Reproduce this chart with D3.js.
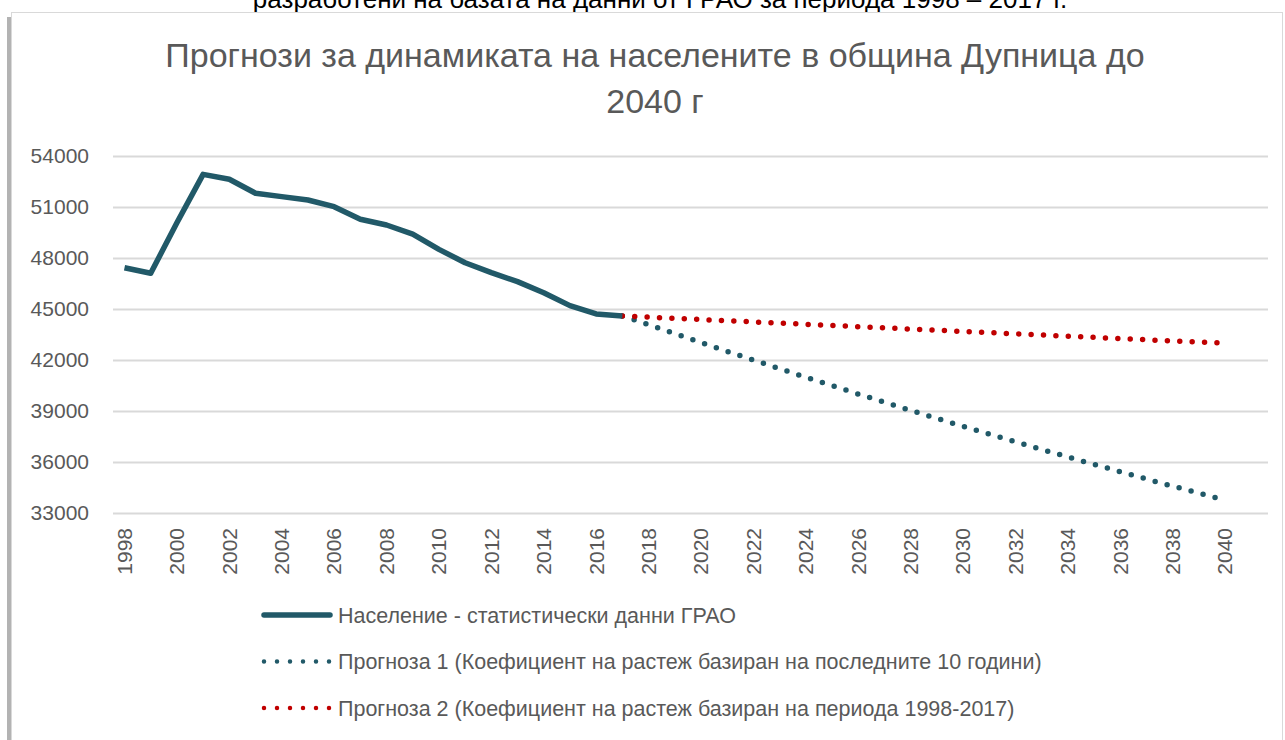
<!DOCTYPE html>
<html>
<head>
<meta charset="utf-8">
<script src="https://cdn.jsdelivr.net/npm/d3@7"></script>
<style>
  body { margin: 0; background: #fff; }
  svg { display: block; }
</style>
</head>
<body>
<svg width="1285" height="740"></svg>
<script>
// data
var years = d3.range(1998, 2041);
var histYears = d3.range(1998, 2018);
var histValues = [47430, 47100, 50080, 52920, 52630, 51810, 51610, 51410, 51020, 50280,
                  49940, 49410, 48510, 47720, 47140, 46610, 45960, 45200, 44710, 44590];
var forecastYears = d3.range(2017, 2041);
var forecast1 = [44590, 44080, 43560, 43030, 42510, 42000, 41490, 40990, 40490, 40000,
                 39520, 39040, 38570, 38100, 37640, 37190, 36740, 36300, 35860, 35430,
                 35000, 34580, 34170, 33760];
var forecast2 = [44590, 44520, 44450, 44380, 44310, 44240, 44170, 44100, 44030, 43960,
                 43890, 43820, 43750, 43680, 43610, 43540, 43470, 43400, 43330, 43260,
                 43190, 43120, 43060, 43000];
var yTicks = [33000, 36000, 39000, 42000, 45000, 48000, 51000, 54000];
var xTickYears = years.filter(function (d) { return d % 2 === 0; });
var titleLines = ["Прогнози за динамиката на населените в община Дупница до", "2040 г"];
var topText = "разработени на базата на данни от ГРАО за периода 1998 – 2017 г.";
var legendNames = ["Население - статистически данни ГРАО",
                   "Прогноза 1 (Коефициент на растеж базиран на последните 10 години)",
                   "Прогноза 2 (Коефициент на растеж базиран на периода 1998-2017)"];

var teal = "#215968", red = "#c00000", grey = "#595959";
var font = "'Liberation Sans', Arial, sans-serif";
var svg = d3.select("svg");

// page text cut by the top of the window
svg.append("text")
    .attr("x", 660).attr("y", 8)
    .attr("text-anchor", "middle")
    .style("font-family", font)
    .style("font-size", "26px")
    .style("fill", "#000")
    .text(topText);

// chart frame
svg.append("rect").attr("x", 7).attr("y", 17).attr("width", 4).attr("height", 730).attr("fill", "#b3b3b3");
svg.append("rect").attr("x", 11.5).attr("y", 12.5).attr("width", 1271).attr("height", 740)
    .attr("fill", "#fff").attr("stroke", "#d9d9d9");

var x = d3.scalePoint().domain(years).range([124.5, 1225]);
var y = d3.scaleLinear().domain([33000, 54000]).range([513, 156]);

// title
svg.append("g").selectAll("text")
    .data(titleLines)
    .join("text")
    .attr("x", 655)
    .attr("y", function (d, i) { return 67 + i * 46; })
    .attr("text-anchor", "middle")
    .style("font-family", font)
    .style("font-size", "34px")
    .style("fill", grey)
    .text(function (d) { return d; });

// grid + y labels
var yAxis = svg.append("g").attr("transform", "translate(113,0)")
    .call(d3.axisLeft(y).tickValues(yTicks).tickSize(-1155).tickPadding(24).tickFormat(d3.format("d")));
yAxis.select(".domain").remove();
yAxis.selectAll(".tick line").attr("stroke", "#d9d9d9").attr("stroke-width", 2);
yAxis.selectAll(".tick text").style("font-family", font)
    .style("font-size", "21px").style("fill", grey);

// x labels
svg.append("g").selectAll("text")
    .data(xTickYears)
    .join("text")
    .attr("transform", function (d) { return "translate(" + x(d) + ",528) rotate(-90)"; })
    .attr("dy", "0.35em")
    .attr("text-anchor", "end")
    .style("font-family", font)
    .style("font-size", "21px")
    .style("fill", grey)
    .text(function (d) { return d; });

var line = d3.line()
    .x(function (d) { return x(d[0]); })
    .y(function (d) { return y(d[1]); });

svg.append("path")
    .datum(d3.zip(forecastYears, forecast1))
    .attr("d", line)
    .attr("fill", "none").attr("stroke", teal).attr("stroke-width", 5.5)
    .attr("stroke-linecap", "round").attr("stroke-dasharray", "0 12.4");
svg.append("path")
    .datum(d3.zip(forecastYears, forecast2))
    .attr("d", line)
    .attr("fill", "none").attr("stroke", red).attr("stroke-width", 5.5)
    .attr("stroke-linecap", "round").attr("stroke-dasharray", "0 12.4");
svg.append("path")
    .datum(d3.zip(histYears, histValues))
    .attr("d", line)
    .attr("fill", "none").attr("stroke", teal).attr("stroke-width", 5.5)
    .attr("stroke-linejoin", "round");

// legend
var legendStyles = [
    { color: teal, width: 5.5, dash: null },
    { color: teal, width: 4.5, dash: "0 13" },
    { color: red, width: 4.5, dash: "0 13" }
];
var legend = svg.append("g").selectAll("g")
    .data(legendNames)
    .join("g")
    .attr("transform", function (d, i) { return "translate(0," + (615 + i * 46.5) + ")"; });
legend.append("line")
    .attr("x1", 264).attr("x2", 330).attr("y1", 0).attr("y2", 0)
    .attr("stroke", function (d, i) { return legendStyles[i].color; })
    .attr("stroke-width", function (d, i) { return legendStyles[i].width; })
    .attr("stroke-linecap", "round")
    .attr("stroke-dasharray", function (d, i) { return legendStyles[i].dash; });
legend.append("text")
    .attr("x", 338).attr("dy", "0.35em")
    .style("font-family", font)
    .style("font-size", "21.5px")
    .style("fill", grey)
    .text(function (d) { return d; });
</script>
</body>
</html>
